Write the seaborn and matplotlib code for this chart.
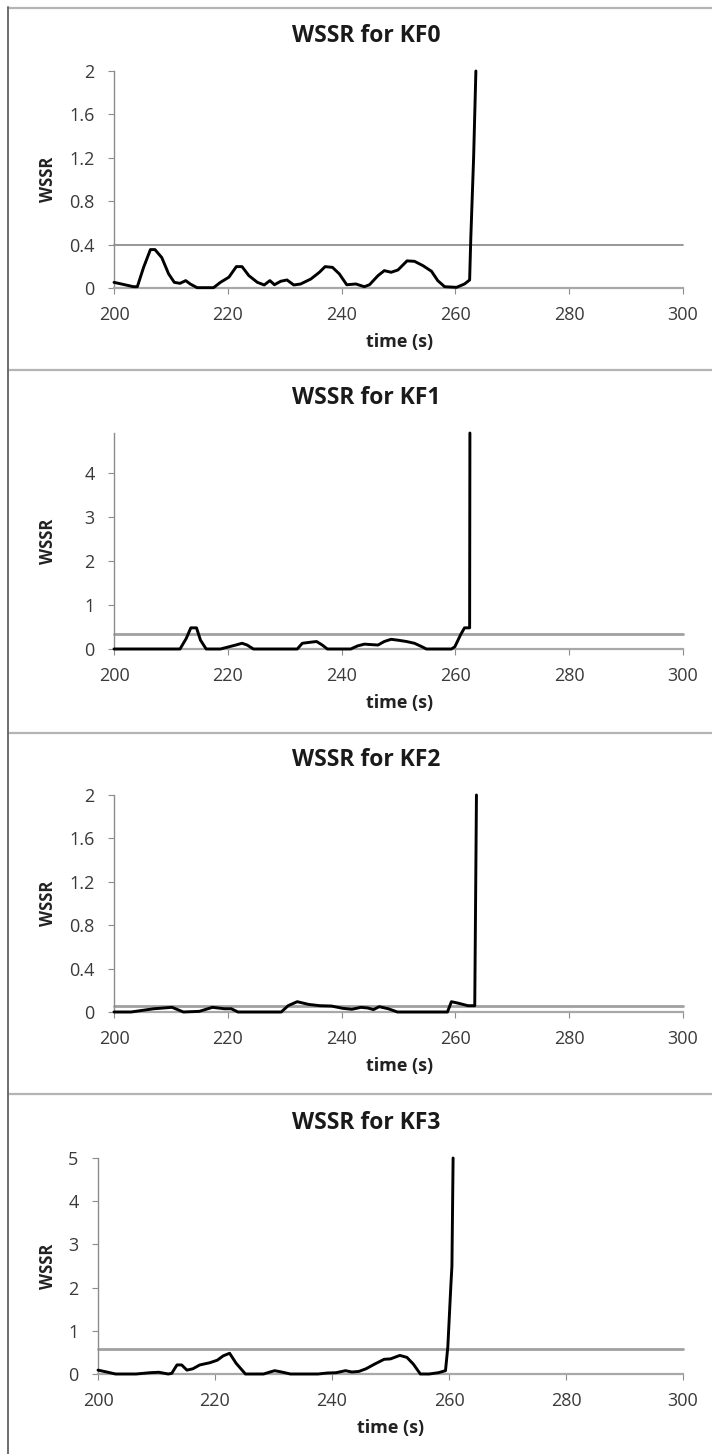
import numpy as np
import pandas as pd
import matplotlib
matplotlib.use("Agg")
import matplotlib.pyplot as plt
from matplotlib.lines import Line2D
from matplotlib.ticker import FuncFormatter
import seaborn as sns

sns.set_style("white")
plt.rcParams['font.family'] = ['Open Sans', 'DejaVu Sans']

titles = ["WSSR for KF0", "WSSR for KF1", "WSSR for KF2", "WSSR for KF3"]
thresholds = [0.40, 0.34, 0.058, 0.59]
y_max = [2.0, 4.9, 2.0, 5.0]
y_ticks = [[0, 0.4, 0.8, 1.2, 1.6, 2], [0, 1, 2, 3, 4], [0, 0.4, 0.8, 1.2, 1.6, 2], [0, 1, 2, 3, 4, 5]]
x_ticks = [200, 220, 240, 260, 280, 300]

kf0_t = [200, 201.9, 203.4, 204.1, 205.2, 206.4, 207.2, 208.4, 209.6, 210.6, 211.6, 212.6, 213.4, 214.6,
         217.5, 218.7, 220.2, 221.5, 222.5, 223.7, 225.2, 226.4, 227.4, 228.2, 229.3, 230.4, 231.6, 232.8,
         234.6, 236.1, 237.1, 238.4, 239.6, 240.9, 242.5, 244.0, 244.9, 246.4, 247.5, 248.7, 249.9, 251.5,
         252.8, 254.3, 255.8, 256.9, 258.1, 260.2, 261.6, 262.5, 262.7, 263.2, 263.6]
kf0_v = [0.052, 0.03, 0.012, 0.012, 0.19, 0.354, 0.354, 0.28, 0.13, 0.052, 0.043, 0.068, 0.037, 0.003,
         0.003, 0.052, 0.10, 0.197, 0.197, 0.114, 0.052, 0.028, 0.068, 0.03, 0.062, 0.074, 0.028, 0.037,
         0.083, 0.145, 0.197, 0.19, 0.13, 0.03, 0.037, 0.012, 0.03, 0.114, 0.16, 0.145, 0.166, 0.25,
         0.246, 0.206, 0.154, 0.068, 0.012, 0.006, 0.037, 0.074, 0.45, 1.2, 2.0]

kf1_t = [200, 211.6, 212.7, 213.5, 214.5, 215.2, 216.2, 218.7, 219.9, 221.4, 222.5, 223.4, 224.5, 232.2,
         233.1, 234.3, 235.6, 236.6, 237.5, 241.6, 242.8, 244.0, 246.4, 247.5, 248.7, 249.9, 251.4, 252.8,
         254.3, 254.9, 259.3, 259.9, 260.9, 261.6, 262.5, 262.55]
kf1_v = [0, 0, 0.24, 0.48, 0.48, 0.2, 0, 0, 0.04, 0.09, 0.13, 0.09, 0, 0,
         0.13, 0.15, 0.17, 0.09, 0, 0, 0.07, 0.11, 0.09, 0.17, 0.22, 0.2, 0.17, 0.13,
         0.04, 0, 0, 0.05, 0.32, 0.48, 0.48, 4.9]

kf2_t = [200, 203.0, 205.4, 207.0, 210.2, 212.2, 215.0, 217.3, 219.4, 220.6, 221.8, 229.4, 230.6, 232.2,
         234.2, 236.2, 238.2, 240.2, 241.8, 243.4, 244.6, 245.6, 246.6, 248.2, 249.8, 258.6, 259.3, 260.6,
         262.2, 263.4, 263.7]
kf2_v = [0, 0, 0.018, 0.03, 0.043, 0, 0.006, 0.043, 0.03, 0.03, 0, 0, 0.058, 0.095,
         0.07, 0.058, 0.055, 0.034, 0.025, 0.043, 0.037, 0.022, 0.049, 0.03, 0, 0, 0.095, 0.08,
         0.058, 0.058, 2.0]

kf3_t = [200, 201.5, 203.0, 206.5, 208.9, 210.4, 212.0, 212.6, 213.5, 214.3, 215.2, 216.2, 217.4, 219.1,
         220.4, 221.4, 222.5, 223.6, 225.2, 228.3, 229.4, 230.2, 231.4, 232.9, 237.6, 239.2, 240.7, 242.3,
         243.4, 244.6, 245.8, 247.3, 248.9, 250.0, 251.6, 252.8, 253.9, 255.1, 256.6, 258.2, 259.4, 259.8,
         260.3, 260.5, 260.7]
kf3_v = [0.09, 0.046, 0, 0, 0.03, 0.04, 0, 0.015, 0.21, 0.21, 0.09, 0.12, 0.21, 0.26,
         0.32, 0.42, 0.48, 0.25, 0, 0, 0.046, 0.077, 0.046, 0, 0, 0.023, 0.03, 0.077,
         0.046, 0.06, 0.12, 0.23, 0.34, 0.35, 0.43, 0.385, 0.23, 0, 0, 0.03, 0.077, 0.63,
         2.0, 2.5, 5.0]

series = [(kf0_t, kf0_v), (kf1_t, kf1_v), (kf2_t, kf2_v), (kf3_t, kf3_v)]

W, H = 712, 1454
fig = plt.figure(figsize=(W / 100, H / 100), dpi=100)

# panel layout in pixels: (left, right, top, bottom)
boxes = [(114, 683, 71, 288), (114, 683, 433, 649), (114, 683, 795, 1012), (98, 683, 1158, 1374)]
title_y = [36, 398, 760, 1123]
title_x = [366, 366, 366, 366]
xlab_x = [400, 400, 400, 391]
sep_y = [7.5, 370, 733, 1094]

# panel borders
for yy in sep_y:
    fig.add_artist(Line2D([8 / W, 1], [1 - yy / H] * 2, transform=fig.transFigure,
                          color="#b4b4b4", lw=1.6))
fig.add_artist(Line2D([8 / W] * 2, [1 - 7 / H, 0], transform=fig.transFigure,
                      color="#6e6e6e", lw=1.4))

axis_col = "#8c8c8c"
fmt = FuncFormatter(lambda v, p: ("%g" % v))

for i, (t, v) in enumerate(series):
    l, r, tp, bt = boxes[i]
    ax = fig.add_axes([l / W, 1 - bt / H, (r - l) / W, (bt - tp) / H])
    df = pd.DataFrame({"time": t, "WSSR": v})
    ax.axhline(thresholds[i], color="#8f8f8f" if i == 0 else "#a0a0a0",
               lw=1.3 if i == 0 else 2.0, zorder=2)
    sns.lineplot(data=df, x="time", y="WSSR", ax=ax, color="black", lw=2.1,
                 estimator=None, sort=False, zorder=3)
    for ln in ax.lines:
        ln.set_clip_on(False)
    ax.set_xlim(200, 300)
    ax.set_ylim(0, y_max[i])
    ax.set_xticks(x_ticks)
    ax.set_yticks(y_ticks[i])
    ax.yaxis.set_major_formatter(fmt)
    for s in ["top", "right"]:
        ax.spines[s].set_visible(False)
    ax.spines["left"].set_color(axis_col)
    ax.spines["bottom"].set_color("#a8a8a8")
    ax.spines["left"].set_linewidth(1.0)
    ax.spines["bottom"].set_linewidth(1.6)
    ax.tick_params(axis="both", direction="out", length=4, width=0.8, color=axis_col,
                   labelsize=13, labelcolor="#3a3a3a", bottom=True, left=True)
    ax.tick_params(axis="x", pad=9)
    ax.tick_params(axis="y", pad=10)
    ax.set_xlabel("time (s)", fontsize=13, fontweight="bold", color="#222222")
    ax.set_ylabel("WSSR", fontsize=12, fontweight="bold", color="#222222")
    ax.yaxis.set_label_coords((57 - l) / (r - l), 0.5)
    ax.xaxis.set_label_coords((xlab_x[i] - l) / (r - l), -45 / (bt - tp))
    ax.patch.set_alpha(0)
    fig.text(title_x[i] / W, 1 - title_y[i] / H, titles[i], ha="center", va="center",
             fontsize=16.5, fontweight="bold", color="#1a1a1a")

fig.savefig("out.png", dpi=100)
